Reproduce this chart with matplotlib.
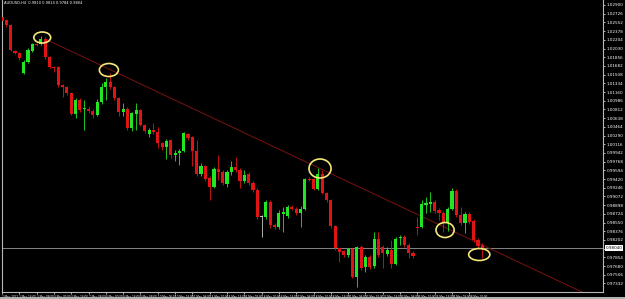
import numpy as np
import matplotlib
matplotlib.use('Agg')
import matplotlib.pyplot as plt
import matplotlib.transforms as mtransforms
from matplotlib.patches import Ellipse

# AUDUSD H4 candles
opens = [1.0266, 1.0260, 1.0250, 1.0198, 1.0194, 1.0154, 1.0176, 1.0198, 1.0212, 1.0212,
         1.0222, 1.0186, 1.0166, 1.0166, 1.0130, 1.0126, 1.0114, 1.0072, 1.0100, 1.0082,
         1.0082, 1.0078, 1.0070, 1.0096, 1.0126, 1.0136, 1.0126, 1.0104, 1.0076, 1.0082,
         1.0044, 1.0072, 1.0080, 1.0050, 1.0032, 1.0040, 1.0036, 1.0014, 1.0006, 1.0020,
         0.9990, 0.9994, 0.9998, 1.0032, 1.0026, 0.9998, 0.9952, 0.9968, 0.9944, 0.9926,
         0.9962, 0.9956, 0.9932, 0.9956, 0.9966, 0.9960, 0.9938, 0.9952, 0.9934, 0.9920,
         0.9866, 0.9866, 0.9896, 0.9850, 0.9846, 0.9872, 0.9868, 0.9886, 0.9882, 0.9874,
         0.9882, 0.9942, 0.9942, 0.9922, 0.9952, 0.9914, 0.9900, 0.9848, 0.9804, 0.9798,
         0.9790, 0.9802, 0.9746, 0.9806, 0.9766, 0.9786, 0.9768, 0.9822, 0.9806, 0.9792,
         0.9800, 0.9772, 0.9824, 0.9826, 0.9810, 0.9794, 0.9846, 0.9846, 0.9890, 0.9893,
         0.9896, 0.9880, 0.9874, 0.9854, 0.9882, 0.9918, 0.9870, 0.9854, 0.9872, 0.9858,
         0.9820, 0.9810]
closes = [1.0258, 1.0250, 1.0200, 1.0194, 1.0184, 1.0176, 1.0200, 1.0212, 1.0210, 1.0222,
          1.0186, 1.0166, 1.0164, 1.0130, 1.0126, 1.0114, 1.0072, 1.0100, 1.0080, 1.0084,
          1.0078, 1.0070, 1.0096, 1.0126, 1.0136, 1.0126, 1.0104, 1.0076, 1.0082, 1.0044,
          1.0074, 1.0080, 1.0050, 1.0038, 1.0040, 1.0036, 1.0014, 1.0006, 1.0018, 0.9990,
          0.9994, 0.9998, 1.0034, 1.0024, 0.9998, 0.9952, 0.9968, 0.9942, 0.9926, 0.9962,
          0.9956, 0.9934, 0.9956, 0.9966, 0.9960, 0.9938, 0.9950, 0.9934, 0.9920, 0.9866,
          0.9866, 0.9896, 0.9850, 0.9846, 0.9874, 0.9876, 0.9886, 0.9882, 0.9874, 0.9882,
          0.9942, 0.9940, 0.9922, 0.9952, 0.9914, 0.9900, 0.9848, 0.9804, 0.9796, 0.9790,
          0.9802, 0.9746, 0.9806, 0.9764, 0.9786, 0.9766, 0.9822, 0.9790, 0.9794, 0.9800,
          0.9772, 0.9822, 0.9826, 0.9810, 0.9794, 0.9788, 0.9844, 0.9892, 0.9894, 0.9896,
          0.9878, 0.9874, 0.9854, 0.9882, 0.9918, 0.9870, 0.9854, 0.9872, 0.9856, 0.9820,
          0.9808, 0.9804]
highs = [1.0270, 1.0262, 1.0252, 1.0200, 1.0196, 1.0180, 1.0204, 1.0214, 1.0214, 1.0228,
         1.0226, 1.0188, 1.0168, 1.0168, 1.0132, 1.0128, 1.0116, 1.0104, 1.0104, 1.0100,
         1.0088, 1.0082, 1.0102, 1.0134, 1.0144, 1.0154, 1.0128, 1.0106, 1.0094, 1.0086,
         1.0076, 1.0094, 1.0082, 1.0052, 1.0044, 1.0054, 1.0046, 1.0016, 1.0022, 1.0022,
         1.0000, 1.0002, 1.0036, 1.0034, 1.0028, 1.0020, 0.9974, 0.9970, 0.9948, 0.9966,
         0.9990, 0.9960, 0.9960, 0.9978, 0.9986, 0.9964, 0.9960, 0.9956, 0.9938, 0.9924,
         0.9870, 0.9900, 0.9900, 0.9854, 0.9880, 0.9886, 0.9890, 0.9890, 0.9886, 0.9888,
         0.9944, 0.9946, 0.9944, 0.9964, 0.9960, 0.9916, 0.9902, 0.9850, 0.9806, 0.9800,
         0.9804, 0.9804, 0.9808, 0.9810, 0.9790, 0.9790, 0.9836, 0.9836, 0.9810, 0.9806,
         0.9820, 0.9826, 0.9830, 0.9830, 0.9814, 0.9798, 0.9866, 0.9900, 0.9906, 0.9916,
         0.9900, 0.9884, 0.9878, 0.9886, 0.9924, 0.9922, 0.9886, 0.9876, 0.9876, 0.9862,
         0.9824, 0.9814]
lows = [1.0256, 1.0246, 1.0198, 1.0192, 1.0180, 1.0152, 1.0174, 1.0196, 1.0208, 1.0210,
        1.0182, 1.0164, 1.0156, 1.0126, 1.0106, 1.0110, 1.0070, 1.0064, 1.0076, 1.0040,
        1.0074, 1.0064, 1.0068, 1.0092, 1.0100, 1.0122, 1.0100, 1.0068, 1.0068, 1.0040,
        1.0038, 1.0040, 1.0048, 1.0034, 1.0026, 1.0032, 1.0004, 1.0000, 0.9982, 0.9984,
        0.9978, 0.9970, 0.9996, 1.0020, 0.9968, 0.9948, 0.9948, 0.9938, 0.9900, 0.9924,
        0.9940, 0.9930, 0.9926, 0.9950, 0.9956, 0.9924, 0.9934, 0.9930, 0.9916, 0.9862,
        0.9826, 0.9862, 0.9844, 0.9842, 0.9842, 0.9836, 0.9864, 0.9880, 0.9870, 0.9846,
        0.9880, 0.9938, 0.9920, 0.9920, 0.9912, 0.9896, 0.9844, 0.9800, 0.9776, 0.9786,
        0.9786, 0.9744, 0.9726, 0.9760, 0.9756, 0.9762, 0.9764, 0.9786, 0.9764, 0.9788,
        0.9764, 0.9770, 0.9810, 0.9806, 0.9784, 0.9784, 0.9830, 0.9844, 0.9874, 0.9876,
        0.9874, 0.9860, 0.9836, 0.9838, 0.9880, 0.9866, 0.9850, 0.9834, 0.9852, 0.9816,
        0.9804, 0.9784]

date_labels = ['2 May 2012', '2 May 16:00', '3 May 08:00', '4 May 00:00', '4 May 16:00',
               '7 May 08:00', '8 May 00:00', '8 May 16:00', '9 May 08:00', '10 May 00:00',
               '10 May 16:00', '11 May 08:00', '14 May 00:00', '14 May 16:00', '15 May 08:00',
               '16 May 00:00', '16 May 16:00', '17 May 08:00', '18 May 00:00', '18 May 16:00',
               '21 May 08:00', '22 May 00:00', '22 May 16:00', '23 May 08:00', '24 May 00:00',
               '24 May 16:00', '25 May 08:00', '28 May 00:00']
date_bars = list(range(0, 112, 4))

# trendline anchors (bar, price)
trend_bars = [9, 73]
trend_prices = [1.0226, 0.9965]

# yellow ellipses: centre bar, centre price, width (bars), height (price)
circle_bars = [9.3, 24.7, 73.5, 102.4, 110.3]
circle_prices = [1.0225, 1.0160, 0.9963, 0.9840, 0.9791]
circle_w = [3.9, 4.4, 5.1, 4.2, 4.9]
circle_h = [0.0022, 0.0026, 0.0038, 0.0030, 0.0024]

bull = '#22e622'
bear = '#e01414'

fig = plt.figure(figsize=(6.25, 2.99), dpi=100, facecolor='black')
ax = fig.add_axes([2 / 625, 7 / 299, 601 / 625, 292 / 299])
ax.set_facecolor('black')

o = np.array(opens)
c = np.array(closes)
h = np.array(highs)
l = np.array(lows)
x = np.arange(len(o))
cols = np.where(c > o, bull, np.where(c < o, bear, '#c8c8c8'))

ax.vlines(x, l, h, colors=cols, linewidth=0.6, zorder=2)
body = np.maximum(np.abs(c - o), 0.00015)
ax.bar(x, body, bottom=np.minimum(o, c), width=0.72, color=cols, linewidth=0, zorder=3)

# current price line
ax.axhline(c[-1], color='#9a9a9a', linewidth=0.6, zorder=1)

# trendline as a ray
slope = (trend_prices[1] - trend_prices[0]) / (trend_bars[1] - trend_bars[0])
tx = np.array([10.5, 145])
ax.plot(tx, trend_prices[0] + slope * (tx - trend_bars[0]), color='#7a1212',
        linewidth=0.7, zorder=1)

for cx, cy, w, hh in zip(circle_bars, circle_prices, circle_w, circle_h):
    ax.add_patch(Ellipse((cx, cy), w, hh, fill=False, edgecolor='#f4e878',
                         linewidth=1.2, zorder=4))

ax.set_xlim(0.1, 138.9)
ax.set_ylim(0.9716, 1.0300)

ax.spines['top'].set_visible(False)
for s in ['left', 'right', 'bottom']:
    ax.spines[s].set_color('#b8b8b8')
    ax.spines[s].set_linewidth(0.8)

ax.yaxis.tick_right()
yt = np.arange(1.0290, 0.9716, -0.00174)
ax.set_yticks(yt)
ax.set_yticklabels([f'{v:.5f}' for v in yt])
ax.tick_params(axis='y', colors='white', labelsize=3, length=1.5, width=0.5, pad=1)

ax.set_xticks(date_bars)
ax.set_xticklabels(date_labels)
for lab in ax.get_xticklabels():
    lab.set_horizontalalignment('left')
ax.tick_params(axis='x', colors='white', labelsize=2.0, length=1.5, width=0.5, pad=0.5)

trans = mtransforms.blended_transform_factory(ax.transAxes, ax.transData)
ax.text(1.004, c[-1], f'{c[-1]:.5f}', transform=trans, fontsize=3, color='black',
        va='center', ha='left',
        bbox=dict(boxstyle='square,pad=0.15', facecolor='white', edgecolor='none'))

ax.text(0.003, 0.997, f'AUDUSD,H4  {o[-1]:.4f} {h[-1]:.4f} {l[-1]:.4f} {c[-1]:.4f}',
        transform=ax.transAxes, fontsize=2.6, color='white', va='top', ha='left')

# window strip at the very bottom
fig.patches.append(plt.Rectangle((0, 0), 1, 2 / 299, transform=fig.transFigure,
                                 facecolor='#b0b0b0', edgecolor='none'))

plt.savefig('out.png', dpi=100, facecolor='black')
